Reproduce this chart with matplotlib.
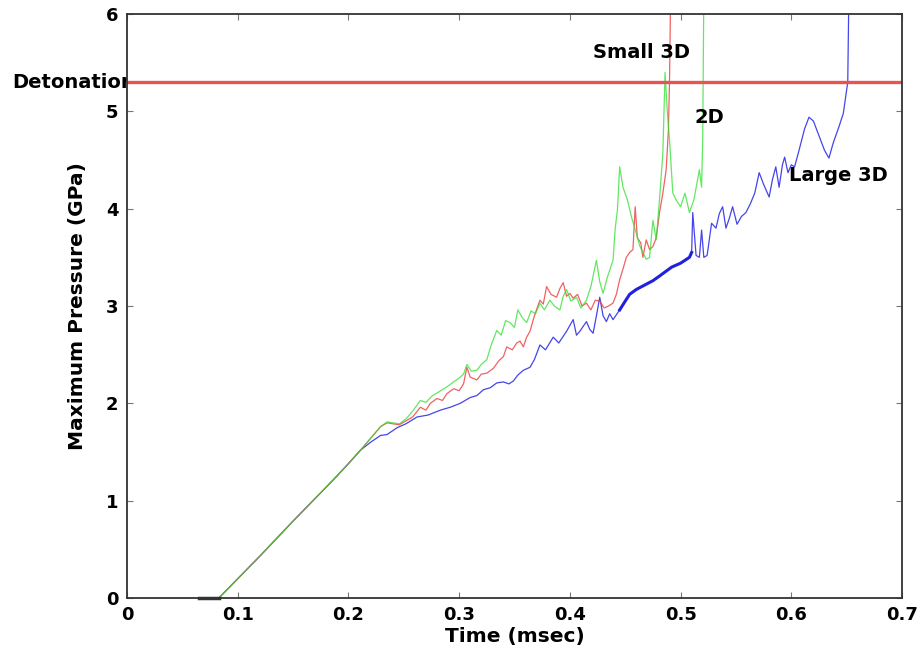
import numpy as np
import matplotlib.pyplot as plt

# shared start of all three runs (msec, GPa)
t_start = [0.065, 0.083, 0.12, 0.15, 0.186, 0.2, 0.211]
p_start = [0.0, 0.0, 0.43, 0.79, 1.21, 1.38, 1.52]

# Large 3D
t_large = [0.22, 0.229, 0.235, 0.244, 0.252, 0.262, 0.272, 0.283, 0.292, 0.301,
           0.31, 0.316, 0.322, 0.328, 0.334, 0.34, 0.345, 0.349, 0.353, 0.358,
           0.364, 0.368, 0.373, 0.378, 0.385, 0.39, 0.397, 0.403, 0.406, 0.409,
           0.415, 0.418, 0.421, 0.424, 0.427, 0.43, 0.433, 0.436, 0.439, 0.445,
           0.45, 0.454, 0.46, 0.465, 0.47, 0.475, 0.48, 0.486, 0.492, 0.5,
           0.508, 0.51, 0.511, 0.514, 0.517, 0.519, 0.521, 0.524, 0.528, 0.532,
           0.535, 0.538, 0.541, 0.544, 0.547, 0.551, 0.555, 0.559, 0.563, 0.567,
           0.571, 0.575, 0.58, 0.583, 0.586, 0.589, 0.592, 0.594, 0.597, 0.6,
           0.603, 0.607, 0.612, 0.616, 0.62, 0.625, 0.63, 0.634, 0.638, 0.643,
           0.647, 0.65, 0.651, 0.652]
p_large = [1.6, 1.67, 1.68, 1.75, 1.79, 1.86, 1.88, 1.93, 1.96, 2.0,
           2.06, 2.08, 2.14, 2.16, 2.21, 2.22, 2.2, 2.23, 2.29, 2.34,
           2.37, 2.45, 2.6, 2.55, 2.68, 2.62, 2.74, 2.86, 2.7, 2.74,
           2.84, 2.76, 2.72, 2.9, 3.09, 2.9, 2.84, 2.92, 2.86, 2.96,
           3.05, 3.12, 3.17, 3.2, 3.23, 3.26, 3.3, 3.35, 3.4, 3.44,
           3.5, 3.55, 3.96, 3.52, 3.5, 3.78, 3.5, 3.52, 3.85, 3.8,
           3.95, 4.02, 3.8, 3.9, 4.02, 3.84, 3.92, 3.96, 4.05, 4.16,
           4.37, 4.25, 4.12, 4.3, 4.43, 4.22, 4.45, 4.53, 4.37, 4.45,
           4.43, 4.6, 4.82, 4.94, 4.9, 4.75, 4.6, 4.52, 4.68, 4.84,
           4.98, 5.22, 5.3, 6.2]

# Small 3D
t_small = [0.22, 0.229, 0.235, 0.24, 0.246, 0.252, 0.258, 0.265, 0.27, 0.274,
           0.28, 0.285, 0.289, 0.295, 0.3, 0.304, 0.307, 0.31, 0.316, 0.32,
           0.325, 0.331, 0.336, 0.34, 0.343, 0.348, 0.352, 0.355, 0.358, 0.361,
           0.364, 0.368, 0.373, 0.376, 0.379, 0.383, 0.388, 0.391, 0.394, 0.397,
           0.4, 0.403, 0.407, 0.411, 0.415, 0.419, 0.423, 0.427, 0.431, 0.435,
           0.439, 0.442, 0.445, 0.448, 0.451, 0.454, 0.457, 0.459, 0.461, 0.464,
           0.466, 0.469, 0.472, 0.475, 0.478, 0.481, 0.484, 0.487, 0.489, 0.49,
           0.491]
p_small = [1.64, 1.76, 1.8, 1.79, 1.78, 1.82, 1.86, 1.96, 1.93, 2.0,
           2.05, 2.03, 2.1, 2.15, 2.13, 2.2, 2.37, 2.27, 2.24, 2.3,
           2.31, 2.36, 2.44, 2.48, 2.58, 2.55, 2.62, 2.64, 2.58, 2.68,
           2.74, 2.9, 3.06, 3.02, 3.2, 3.12, 3.09, 3.18, 3.24, 3.1,
           3.13, 3.08, 3.12, 3.0, 3.03, 2.96, 3.06, 3.05, 2.98, 3.0,
           3.03, 3.12, 3.27, 3.38, 3.5, 3.55, 3.58, 4.02, 3.7, 3.65,
           3.5, 3.68, 3.58, 3.61, 3.7, 3.96, 4.16, 4.4, 4.8, 5.29,
           6.2]

# 2D
t_2d = [0.22, 0.229, 0.235, 0.24, 0.246, 0.252, 0.258, 0.265, 0.27, 0.276,
        0.282, 0.289, 0.295, 0.3, 0.304, 0.307, 0.311, 0.316, 0.32, 0.325,
        0.329, 0.334, 0.338, 0.342, 0.346, 0.35, 0.353, 0.357, 0.361, 0.365,
        0.369, 0.373, 0.377, 0.382, 0.386, 0.391, 0.394, 0.397, 0.401, 0.406,
        0.41, 0.415, 0.419, 0.424, 0.427, 0.43, 0.434, 0.439, 0.441, 0.443,
        0.445, 0.448, 0.452, 0.456, 0.46, 0.463, 0.466, 0.469, 0.472, 0.475,
        0.478, 0.481, 0.484, 0.486, 0.488, 0.49, 0.493, 0.496, 0.5, 0.504,
        0.508, 0.512, 0.517, 0.519, 0.52, 0.521]
p_2d = [1.64, 1.76, 1.81, 1.8, 1.79, 1.84, 1.92, 2.03, 2.01, 2.08,
        2.12, 2.17, 2.22, 2.26, 2.3, 2.4, 2.33, 2.34, 2.4, 2.45,
        2.6, 2.75, 2.7, 2.85, 2.83, 2.78, 2.96, 2.88, 2.83, 2.95,
        2.92, 3.03, 2.96, 3.06, 3.0, 2.96, 3.1, 3.17, 3.05, 3.09,
        2.98, 3.06, 3.2, 3.47, 3.25, 3.13, 3.3, 3.47, 3.8, 3.99,
        4.43, 4.22, 4.09, 3.9, 3.75, 3.62, 3.55, 3.48, 3.5, 3.88,
        3.68, 4.1, 4.57, 5.4, 5.0, 4.71, 4.16, 4.09, 4.02, 4.16,
        3.96, 4.09, 4.4, 4.22, 4.71, 6.2]

detonation = 5.3

fig = plt.figure(figsize=(9.24, 6.55), dpi=100)
ax = fig.add_axes([0.1374, 0.087, 0.8388, 0.8916])

ax.plot(t_start + t_large, p_start + p_large, color='#2424e6', lw=0.9, alpha=0.85)
# the dense stretch of the Large 3D run looks heavier in the original
i0, i1 = t_large.index(0.445), t_large.index(0.51)
ax.plot(t_large[i0:i1 + 1], p_large[i0:i1 + 1], color='#2020dd', lw=2.2)
ax.plot(t_start + t_small, p_start + p_small, color='#ee3a3a', lw=0.9, alpha=0.8)
ax.plot(t_start + t_2d, p_start + p_2d, color='#2ee02e', lw=0.9, alpha=0.75)
ax.plot(t_start[:2], p_start[:2], color='#333333', lw=2.5, clip_on=False)
ax.axhline(detonation, color='#e85454', lw=2.4)

ax.set_xlim(0, 0.7)
ax.set_ylim(0, 6)
ax.set_xticks(np.arange(0, 0.71, 0.1))
ax.set_xticklabels(['0', '0.1', '0.2', '0.3', '0.4', '0.5', '0.6', '0.7'])
ax.set_yticks(range(7))
ax.tick_params(direction='in', top=True, right=True, length=4, width=0.8,
               color='#777777', labelsize=13, pad=6)
for lab in ax.get_xticklabels() + ax.get_yticklabels():
    lab.set_fontweight('bold')
for s in ax.spines.values():
    s.set_color('#333333')
    s.set_linewidth(1.3)

ax.set_xlabel('Time (msec)', fontsize=14.5, fontweight='bold', labelpad=2)
ax.set_ylabel('Maximum Pressure (GPa)', fontsize=14.5, fontweight='bold', labelpad=14)

ax.text(0.421, 5.6, 'Small 3D', fontsize=14, fontweight='bold', va='center')
ax.text(0.513, 4.94, '2D', fontsize=14, fontweight='bold', va='center')
ax.text(0.598, 4.34, 'Large 3D', fontsize=14, fontweight='bold', va='center')
fig.text(12 / 924, 1 - 82 / 655, 'Detonation', fontsize=14, fontweight='bold',
         va='center', zorder=-1)

fig.savefig('out.png', dpi=100)
